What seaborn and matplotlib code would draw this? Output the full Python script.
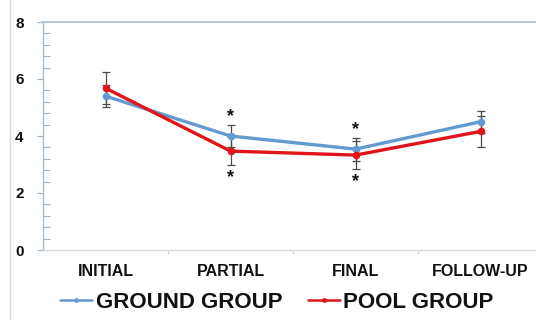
import numpy as np
import pandas as pd
import matplotlib
matplotlib.use("Agg")
import matplotlib.pyplot as plt
from matplotlib.lines import Line2D
from matplotlib.ticker import MultipleLocator, FixedLocator
import seaborn as sns

# Assessment stages and group means with their error margins
stages = ["INITIAL", "PARTIAL", "FINAL", "FOLLOW-UP"]
ground_mean = [5.40, 4.00, 3.54, 4.50]
ground_err = [0.38, 0.39, 0.40, 0.39]
pool_mean = [5.68, 3.47, 3.33, 4.16]
pool_err = [0.55, 0.50, 0.50, 0.53]
group_names = ["GROUND GROUP", "POOL GROUP"]

# stages marked as significant (asterisks above ground, below pool)
significant = ["PARTIAL", "FINAL"]

sns.set_theme(style="white")
plt.rcParams["font.family"] = ["Liberation Sans", "DejaVu Sans"]

blue = "#629BD0"
red = "#E0141B"
ink = "#111111"

df = pd.DataFrame({
    "stage": stages * 2,
    "pos": list(range(len(stages))) * 2,
    "value": ground_mean + pool_mean,
    "err": ground_err + pool_err,
    "group": [group_names[0]] * len(stages) + [group_names[1]] * len(stages),
})

fig = plt.figure(figsize=(5.36, 3.2), dpi=100)
ax = fig.add_axes([43 / 536, 70 / 320, 500 / 536, 228 / 320])

# error bars under the lines
for name in group_names:
    sub = df[df["group"] == name]
    ax.errorbar(sub["pos"], sub["value"], yerr=sub["err"], fmt="none",
                ecolor="#4a4a4a", elinewidth=0.9, capsize=2.8, capthick=0.9,
                zorder=2)

sns.lineplot(data=df, x="pos", y="value", hue="group",
             palette={group_names[0]: blue, group_names[1]: red},
             marker="o", markersize=5.5, markeredgewidth=0, linewidth=2.4,
             ax=ax, legend=False, zorder=3)

# significance marks
for st in significant:
    i = stages.index(st)
    ax.text(i, ground_mean[i] + ground_err[i] + 0.28, "*", ha="center",
            va="center", fontsize=13, fontweight="bold", color=ink)
    ax.text(i, pool_mean[i] - pool_err[i] - 0.42, "*", ha="center",
            va="center", fontsize=13, fontweight="bold", color=ink)

ax.set_xlim(-0.5, len(stages) - 0.5)
ax.set_ylim(0, 8)
ax.set_xlabel("")
ax.set_ylabel("")

ax.set_xticks(range(len(stages)))
ax.set_xticklabels(stages, fontsize=11.5, fontweight="bold", color=ink)
ax.xaxis.set_minor_locator(FixedLocator([0.5, 1.5, 2.5]))
ax.tick_params(axis="x", which="major", length=0, pad=10)
ax.tick_params(axis="x", which="minor", bottom=True, direction="out",
               length=3, color="#c8d0d8", width=0.8)

ax.yaxis.set_major_locator(MultipleLocator(2))
ax.yaxis.set_minor_locator(MultipleLocator(0.4))
ax.tick_params(axis="y", which="major", left=True, direction="out",
               length=4, color="#9fb4c6", width=0.9, pad=10,
               labelsize=11, labelcolor=ink)
ax.tick_params(axis="y", which="minor", left=True, direction="in",
               length=5, color="#9fb4c6", width=0.8)
for lab in ax.get_yticklabels():
    lab.set_fontweight("bold")

for side in ["left", "top", "bottom"]:
    ax.spines[side].set_visible(True)
ax.spines["left"].set_color("#a9bfd0")
ax.spines["left"].set_linewidth(1.0)
ax.spines["top"].set_color("#a9bfd0")
ax.spines["top"].set_linewidth(1.2)
ax.spines["bottom"].set_color("#d3dae0")
ax.spines["bottom"].set_linewidth(1.0)
ax.spines["right"].set_visible(False)

# legend below the axes
handles = [Line2D([], [], color=blue, lw=1.8, marker="o", markersize=3.5,
                  markeredgewidth=0),
           Line2D([], [], color=red, lw=1.8, marker="o", markersize=3.5,
                  markeredgewidth=0)]
leg = fig.legend(handles, group_names, loc="center",
                 bbox_to_anchor=(277 / 536, 1 - 302 / 320),
                 ncol=2, frameon=False, handlelength=1.45, handletextpad=0.15,
                 columnspacing=1.15, prop={"weight": "bold", "size": 16})
for t in leg.get_texts():
    t.set_color(ink)

# thin frame line along the left edge of the figure
fig.add_artist(Line2D([10 / 536, 10 / 536], [0, 1], color="#d8d8d8", lw=1.0,
                      transform=fig.transFigure))

fig.savefig("out.png", dpi=100)
